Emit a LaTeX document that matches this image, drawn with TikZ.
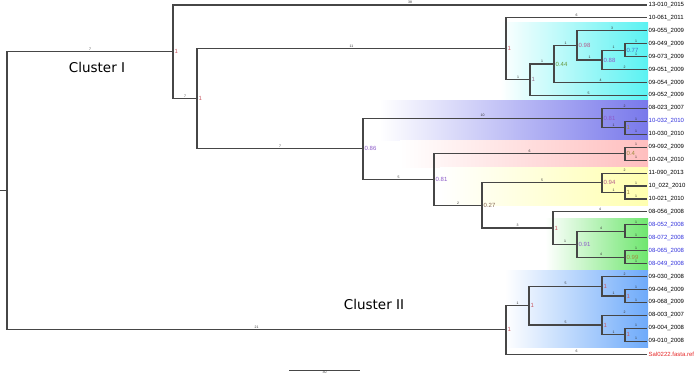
\documentclass[tikz,border=0pt]{standalone}
\usepackage{fontspec}
\setmainfont{Liberation Sans}
\newfontfamily\clusterfont{DejaVu Sans}
\definecolor{treeline}{RGB}{70,70,70}
\definecolor{bsred}{RGB}{200,90,100}
\definecolor{bsolive}{RGB}{160,140,60}
\definecolor{bsgreen}{RGB}{100,150,60}
\definecolor{bsmauve}{RGB}{180,90,140}
\definecolor{bspurple}{RGB}{140,90,200}
\definecolor{bsblue}{RGB}{70,110,200}
\definecolor{bsbrown}{RGB}{130,100,80}
\definecolor{bsgrey}{RGB}{150,110,140}
\definecolor{tipblue}{RGB}{50,50,220}
\definecolor{tipred}{RGB}{230,40,40}
\definecolor{bandcyan}{RGB}{90,242,242}
\definecolor{bandpurple}{RGB}{120,120,235}
\definecolor{bandpink}{RGB}{255,190,190}
\definecolor{bandyellow}{RGB}{255,255,175}
\definecolor{bandgreen}{RGB}{110,230,110}
\definecolor{bandblue}{RGB}{110,170,250}
\begin{document}
\begin{tikzpicture}[
        x=1pt, y=-1pt,
        branch/.style={draw=treeline, line width=1.1pt},
        leaf/.style={anchor=west, inner sep=1.5pt, font=\fontsize{6}{6}\selectfont},
        boot/.style={anchor=west, inner sep=1.5pt, font=\fontsize{6}{6}\selectfont},
        blen/.style={above, inner sep=0.8pt, font=\fontsize{3.5}{3.5}\selectfont, text=black!80},
        cluster/.style={font=\clusterfont\fontsize{13.5}{14}\selectfont}
    ]
    \useasboundingbox (0,0) rectangle (696,377);

    % coloured groups
    \shade[left color=white, right color=bandcyan] (500,23) rectangle (648,101);
    \shade[left color=white, right color=bandpurple] (380,101) rectangle (648,141);
    \shade[left color=white, right color=bandpink] (400,141) rectangle (648,167);
    \shade[left color=white, right color=bandyellow] (440,167) rectangle (648,205);
    \shade[left color=white, right color=bandgreen] (545,218) rectangle (648,270);
    \shade[left color=white, right color=bandblue] (505,270) rectangle (648,347);

    % tips
    \node[leaf] (l0) at (647,5.0) {13-010\_2015};
    \node[leaf] (l1) at (647,17.9) {10-061\_2011};
    \node[leaf] (l2) at (647,30.9) {09-055\_2009};
    \node[leaf] (l3) at (647,43.8) {09-049\_2009};
    \node[leaf] (l4) at (647,56.7) {09-073\_2009};
    \node[leaf] (l5) at (647,69.7) {09-051\_2009};
    \node[leaf] (l6) at (647,82.6) {09-054\_2009};
    \node[leaf] (l7) at (647,95.5) {09-052\_2009};
    \node[leaf] (l8) at (647,108.4) {08-023\_2007};
    \node[leaf, text=tipblue] (l9) at (647,121.4) {10-032\_2010};
    \node[leaf] (l10) at (647,134.3) {10-030\_2010};
    \node[leaf] (l11) at (647,147.2) {09-092\_2009};
    \node[leaf] (l12) at (647,160.2) {10-024\_2010};
    \node[leaf] (l13) at (647,173.1) {11-090\_2013};
    \node[leaf] (l14) at (647,186.0) {10\_022\_2010};
    \node[leaf] (l15) at (647,199.0) {10-021\_2010};
    \node[leaf] (l16) at (647,211.9) {08-056\_2008};
    \node[leaf, text=tipblue] (l17) at (647,224.8) {08-052\_2008};
    \node[leaf, text=tipblue] (l18) at (647,237.7) {08-072\_2008};
    \node[leaf, text=tipblue] (l19) at (647,250.7) {08-065\_2008};
    \node[leaf, text=tipblue] (l20) at (647,263.6) {08-049\_2008};
    \node[leaf] (l21) at (647,276.5) {09-030\_2008};
    \node[leaf] (l22) at (647,289.5) {09-046\_2009};
    \node[leaf] (l23) at (647,302.4) {09-068\_2009};
    \node[leaf] (l24) at (647,315.3) {08-003\_2007};
    \node[leaf] (l25) at (647,328.3) {09-004\_2008};
    \node[leaf] (l26) at (647,341.2) {09-010\_2008};
    \node[leaf, text=tipred] (l27) at (647,354.1) {Sal0222.fasta.ref};

    % inner nodes with support values
    \node[boot] (root) at (7,190.9) {};
    \coordinate (stub) at (0,190.9);
    \node[boot, text=bsred] (A) at (173,51.9) {1};
    \node[boot, text=bsred] (B) at (197,98.8) {1};
    \node[boot, text=bsred] (C) at (506,48.8) {1};
    \node[boot, text=bsgrey] (E) at (530,79.8) {1};
    \node[boot, text=bsgreen] (F) at (554,64) {0.44};
    \node[boot, text=bsmauve] (G) at (577,45.4) {0.98};
    \node[boot, text=bspurple] (H) at (602,60) {0.88};
    \node[boot, text=bsblue] (I) at (625,50.25) {0.77};
    \node[boot, text=bspurple] (D) at (363,148.8) {0.86};
    \node[boot, text=bspurple] (J) at (602,118.1) {0.81};
    \node[boot, text=bsolive] (L) at (625,127.8) {1};
    \node[boot, text=bspurple] (K) at (434,179.6) {0.81};
    \node[boot, text=bsolive] (M) at (625,153.7) {0.4};
    \node[boot, text=bsbrown] (N) at (482,205.4) {0.27};
    \node[boot, text=bsmauve] (O) at (602,182.8) {0.94};
    \node[boot, text=bsolive] (P) at (625,192.5) {1};
    \node[boot, text=bsred] (Q) at (553,228) {1};
    \node[boot, text=bspurple] (R) at (577,244.2) {0.91};
    \node[boot] (S) at (625,231.3) {};
    \node[boot, text=bsolive] (T) at (625,257.1) {0.99};
    \node[boot, text=bsred] (U) at (506,329.9) {1};
    \node[boot, text=bsred] (V) at (529,305.6) {1};
    \node[boot, text=bsred] (W) at (602,286.2) {1};
    \node[boot, text=bsred] (X) at (625,296) {1};
    \node[boot, text=bsred] (Y) at (602,325) {1};
    \node[boot, text=bsred] (Z) at (625,334.7) {1};

    % branches, with their lengths
    \draw[branch] (stub) -- (root.west);
    \foreach \from/\to/\len in {root/A/7, root/U/21,
            A/l0/38, A/B/7, B/C/11, B/D/7,
            C/l1/6, C/E/1, E/F/1, E/l7/5, F/G/1, F/l6/4,
            G/l2/3, G/H/1, H/I/1, H/l5/2, I/l3/1, I/l4/1,
            D/J/10, D/K/5, J/l8/2, J/L/1, L/l9/1, L/l10/1,
            K/M/6, K/N/2, M/l11/1, M/l12/1,
            N/O/5, N/Q/3, O/l13/2, O/P/1, P/l14/1, P/l15/1,
            Q/l16/4, Q/R/1, R/S/4, R/T/4,
            S/l17/1, S/l18/1, T/l19/1, T/l20/1,
            U/V/1, U/l27/6, V/W/5, V/Y/5,
            W/l21/2, W/X/1, X/l22/1, X/l23/1,
            Y/l24/2, Y/Z/1, Z/l25/1, Z/l26/1}
        \draw[branch] (\from.west) |- node[blen, pos=0.75] {\len} (\to.west);

    % scale
    \coordinate (sbl) at (289,370);
    \coordinate (sbr) at (360,370);
    \draw[treeline, line width=0.6pt] (sbl) -- node[blen, below] {30} (sbr);

    \node[cluster] (c1) at (97,67) {Cluster I};
    \node[cluster] (c2) at (374,304) {Cluster II};
\end{tikzpicture}
\end{document}
